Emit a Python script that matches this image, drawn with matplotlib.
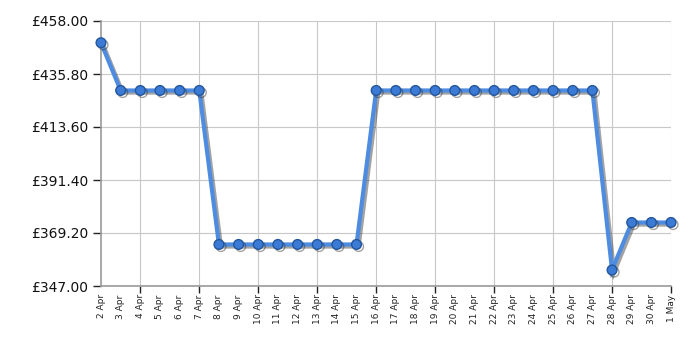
import matplotlib
matplotlib.use("Agg")
import matplotlib.pyplot as plt
import matplotlib.patheffects as pe
from matplotlib.ticker import FixedLocator

dates = ["2 Apr", "3 Apr", "4 Apr", "5 Apr", "6 Apr", "7 Apr", "8 Apr", "9 Apr",
         "10 Apr", "11 Apr", "12 Apr", "13 Apr", "14 Apr", "15 Apr", "16 Apr",
         "17 Apr", "18 Apr", "19 Apr", "20 Apr", "21 Apr", "22 Apr", "23 Apr",
         "24 Apr", "25 Apr", "26 Apr", "27 Apr", "28 Apr", "29 Apr", "30 Apr", "1 May"]
prices = [448.9, 428.9, 428.9, 428.9, 428.9, 428.9,
          364.4, 364.4, 364.4, 364.4, 364.4, 364.4, 364.4, 364.4,
          428.9, 428.9, 428.9, 428.9, 428.9, 428.9, 428.9, 428.9, 428.9, 428.9, 428.9, 428.9,
          353.7, 373.6, 373.6, 373.6]
y_ticks = [347.00, 369.20, 391.40, 413.60, 435.80, 458.00]

fig = plt.figure(figsize=(7, 3.5), dpi=100)
ax = fig.add_axes([101/700, 64/350, 570/700, 265/350])

x = list(range(len(dates)))
ax.plot(x, prices, color="#4d8ce0", lw=3, marker="o", ms=7,
        mfc="#3b7bd6", mec="#24569c", mew=1.0, solid_joinstyle="miter",
        path_effects=[pe.SimpleLineShadow(offset=(1.5, -1.5), shadow_color="#333333", alpha=0.45),
                      pe.Normal()], zorder=3, clip_on=False)

ax.set_xlim(0, len(dates) - 1)
ax.set_ylim(y_ticks[0], y_ticks[-1])

ax.set_xticks(x)
ax.set_xticklabels(dates, rotation=90, fontsize=6.5, color="#222222")
major_idx = [i for i in x if (len(dates) - 1 - i) % 3 == 0]
ax.xaxis.remove_overlapping_locs = False
ax.xaxis.set_minor_locator(FixedLocator(major_idx))
ax.tick_params(axis="x", which="major", length=0, pad=6)
ax.tick_params(axis="x", which="minor", length=5, width=1, color="#222222")

ax.set_yticks(y_ticks)
ax.set_yticklabels([f"£{v:.2f}" for v in y_ticks], fontsize=10, color="#111111")
ax.tick_params(axis="y", length=6, width=1, color="#222222", pad=3)

ax.grid(True, axis="y", which="major", color="#c8c8c8", lw=0.8)
ax.grid(True, axis="x", which="minor", color="#c8c8c8", lw=0.8)
ax.set_axisbelow(True)

for s in ["top", "right"]:
    ax.spines[s].set_visible(False)
for s in ["left", "bottom"]:
    ax.spines[s].set_color("#999999")
    ax.spines[s].set_linewidth(1.2)

fig.savefig("out.png", dpi=100)
